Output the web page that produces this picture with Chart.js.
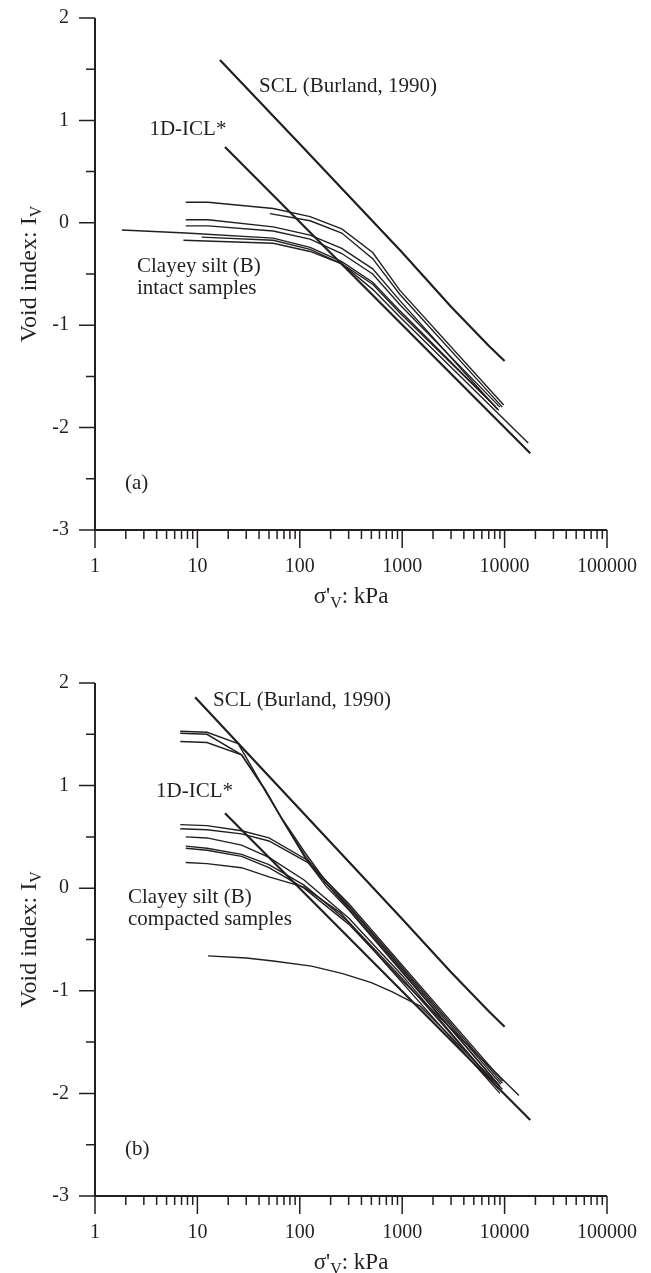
<!DOCTYPE html>
<html>
<head>
<meta charset="utf-8">
<script src="https://cdn.jsdelivr.net/npm/chart.js@4.4.0/dist/chart.umd.min.js"></script>
<style>
    html, body { margin: 0; padding: 0; background: #fff; }
    canvas { display: block; }
</style>
</head>
<body>
<canvas id="graphiqueIntact" width="651" height="636"></canvas>
<canvas id="graphiqueCompacte" width="651" height="637"></canvas>
<script>
// Graduations des axes
const pressionsTicks = [1, 10, 100, 1000, 10000, 100000];
const indicesTicks = [-3, -2, -1, 0, 1, 2];

// (a) échantillons intacts : [σ'v (kPa), Iv]
const sclIntact = [[16.6, 1.59], [100, 0.77], [1000, -0.29], [3000, -0.82], [7000, -1.20], [10000, -1.35]];
const iclIntact = [[18.6, 0.74], [17800, -2.25]];
const intact1 = [[7.7, 0.20], [12.7, 0.20], [55, 0.14], [126, 0.06], [257, -0.06], [515, -0.29], [950, -0.66], [9800, -1.78]];
const intact2 = [[51, 0.09], [126, 0.02], [257, -0.10], [515, -0.35], [950, -0.70], [9500, -1.80]];
const intact3 = [[7.7, 0.03], [12.7, 0.03], [55, -0.04], [126, -0.12], [257, -0.25], [515, -0.45], [950, -0.76], [8500, -1.82]];
const intact4 = [[7.7, -0.03], [12.7, -0.03], [55, -0.08], [126, -0.16], [257, -0.30], [515, -0.50], [950, -0.80], [9000, -1.80]];
const intact5 = [[1.83, -0.07], [7.7, -0.10], [55, -0.15], [126, -0.24], [257, -0.38], [515, -0.58], [950, -0.86], [8800, -1.83]];
const intact6 = [[11, -0.14], [55, -0.17], [126, -0.26], [257, -0.40], [515, -0.65], [950, -0.92], [17000, -2.15]];
const intact7 = [[7.3, -0.17], [55, -0.20], [126, -0.28], [257, -0.40], [515, -0.60], [950, -0.88], [8200, -1.80]];

// (b) échantillons compactés
const sclCompacte = [[9.5, 1.86], [100, 0.77], [1000, -0.30], [3000, -0.82], [7000, -1.20], [10000, -1.35]];
const iclCompacte = [[18.6, 0.73], [17800, -2.26]];
const compacte1 = [[6.8, 1.53], [12.4, 1.52], [25, 1.41], [42, 1.02], [65, 0.70], [110, 0.36], [170, 0.10], [300, -0.15], [1000, -0.75], [9600, -1.88]];
const compacte2 = [[6.8, 1.51], [12.4, 1.50], [27, 1.30], [44, 0.98], [68, 0.66], [112, 0.32], [175, 0.06], [300, -0.18], [1000, -0.79], [9200, -1.91]];
const compacte3 = [[6.8, 1.43], [12.4, 1.42], [27, 1.30], [46, 0.96], [72, 0.62], [115, 0.28], [180, 0.02], [300, -0.21], [1000, -0.82], [9000, -1.93]];
const compacte4 = [[6.8, 0.62], [12.4, 0.61], [27, 0.56], [50, 0.49], [120, 0.27], [300, -0.17], [1000, -0.77], [9500, -1.90]];
const compacte5 = [[6.8, 0.58], [12.4, 0.57], [27, 0.53], [50, 0.46], [120, 0.25], [300, -0.20], [1000, -0.81], [8800, -1.92]];
const compacte6 = [[7.7, 0.50], [12.4, 0.49], [27, 0.42], [50, 0.30], [110, 0.08], [300, -0.29], [1000, -0.85], [8800, -1.96]];
const compacte7 = [[7.7, 0.41], [12.4, 0.39], [27, 0.33], [50, 0.23], [110, 0.03], [300, -0.33], [1000, -0.88], [9300, -1.98]];
const compacte8 = [[7.7, 0.39], [12.4, 0.37], [27, 0.31], [50, 0.20], [110, 0.00], [300, -0.35], [1000, -0.90], [13800, -2.02]];
const compacte9 = [[7.7, 0.25], [12.4, 0.24], [27, 0.20], [50, 0.11], [110, 0.01], [250, -0.24], [1000, -0.92], [9000, -2.00]];
const compacte10 = [[12.7, -0.66], [30, -0.68], [55, -0.71], [130, -0.76], [257, -0.83], [500, -0.92], [800, -1.01], [1100, -1.08], [1500, -1.15], [3000, -1.45], [9500, -1.96]];

const encre = '#231f20';
const police = '"Liberation Serif", "Times New Roman", serif';

function versPoints(paires) {
    return paires.map(([x, y]) => ({ x: x, y: y }));
}

// Axes en L avec graduations majeures / mineures
const cadreAxes = {
    id: 'cadreAxes',
    afterDraw(chart) {
        const { ctx, scales: { x, y } } = chart;
        const gauche = x.getPixelForValue(1), droite = x.getPixelForValue(100000);
        const bas = y.getPixelForValue(-3), haut = y.getPixelForValue(2);
        ctx.save();
        ctx.strokeStyle = encre;
        ctx.lineWidth = 2;
        ctx.beginPath();
        ctx.moveTo(gauche, haut);
        ctx.lineTo(gauche, bas);
        ctx.lineTo(droite, bas);
        ctx.stroke();

        ctx.lineWidth = 1.5;
        ctx.beginPath();
        for (let v = -3; v <= 2; v += 0.5) {
            const p = y.getPixelForValue(v);
            const longueur = Number.isInteger(v) ? 16 : 9;
            ctx.moveTo(gauche - longueur, p);
            ctx.lineTo(gauche, p);
        }
        for (let e = 0; e <= 5; e++) {
            for (let m = 1; m <= 9; m++) {
                if (e === 5 && m > 1) break;
                const p = x.getPixelForValue(m * Math.pow(10, e));
                const longueur = m === 1 ? 18 : 9;
                ctx.moveTo(p, bas);
                ctx.lineTo(p, bas + longueur);
            }
        }
        ctx.stroke();
        ctx.restore();
    }
};

// Texte avec indice (ex. Iv, σ'v)
function ecrireAvecIndice(ctx, morceaux, x, y, taille) {
    const tailleIndice = Math.round(taille * 0.68);
    const largeurs = morceaux.map(m => {
        ctx.font = (m.indice ? tailleIndice : taille) + 'px ' + police;
        return ctx.measureText(m.t).width;
    });
    let cx = x - largeurs.reduce((a, b) => a + b, 0) / 2;
    morceaux.forEach((m, i) => {
        ctx.font = (m.indice ? tailleIndice : taille) + 'px ' + police;
        ctx.fillText(m.t, cx, y + (m.indice ? 5 : 0));
        cx += largeurs[i];
    });
}

// Titres d'axes et annotations placées en coordonnées de données
function creerTextes(annotations) {
    return {
        id: 'textesLibres',
        afterDraw(chart) {
            const { ctx, chartArea, scales: { x, y } } = chart;
            ctx.save();
            ctx.fillStyle = encre;
            ctx.textBaseline = 'alphabetic';
            ctx.textAlign = 'left';

            ecrireAvecIndice(ctx, [{ t: "σ'" }, { t: 'V', indice: true }, { t: ': kPa' }],
                (chartArea.left + chartArea.right) / 2, chartArea.bottom + 73, 23);

            ctx.save();
            ctx.translate(36, (chartArea.top + chartArea.bottom) / 2);
            ctx.rotate(-Math.PI / 2);
            ecrireAvecIndice(ctx, [{ t: 'Void index: I' }, { t: 'V', indice: true }], 0, 0, 24);
            ctx.restore();

            ctx.font = '21px ' + police;
            annotations.forEach(a => {
                ctx.fillText(a.texte, x.getPixelForValue(a.x), y.getPixelForValue(a.y));
            });
            ctx.restore();
        }
    };
}

function creerGraphique(idCanvas, droites, courbes, annotations, margeHaut, margeBas) {
    const ctx = document.getElementById(idCanvas).getContext('2d');
    const datasets = [];
    droites.forEach(d => datasets.push({
        data: versPoints(d), borderColor: encre, borderWidth: 2.2, pointRadius: 0, tension: 0
    }));
    courbes.forEach(c => datasets.push({
        data: versPoints(c), borderColor: encre, borderWidth: 1.4, pointRadius: 0, tension: 0
    }));

    return new Chart(ctx, {
        type: 'line',
        data: { datasets: datasets },
        options: {
            responsive: false,
            animation: false,
            events: [],
            layout: { padding: { top: margeHaut, right: 44, bottom: margeBas, left: 0 } },
            plugins: { legend: { display: false }, tooltip: { enabled: false } },
            scales: {
                x: {
                    type: 'logarithmic',
                    min: 1,
                    max: 100000,
                    afterBuildTicks: s => { s.ticks = pressionsTicks.map(v => ({ value: v })); },
                    afterFit: s => {
                        s.height = 70;
                        s.paddingLeft = 0;
                        s.paddingRight = 0;
                    },
                    grid: { display: false, drawTicks: false },
                    border: { display: false },
                    ticks: {
                        autoSkip: false, maxRotation: 0, padding: 25, color: encre,
                        font: { family: police, size: 20 },
                        callback: v => String(v)
                    }
                },
                y: {
                    type: 'linear',
                    min: -3,
                    max: 2,
                    afterBuildTicks: s => { s.ticks = indicesTicks.map(v => ({ value: v })); },
                    afterFit: s => {
                        s.width = 95;
                        s.paddingTop = 0;
                        s.paddingBottom = 0;
                    },
                    grid: { display: false, drawTicks: false },
                    border: { display: false },
                    ticks: {
                        padding: 26, color: encre,
                        font: { family: police, size: 20 },
                        callback: v => String(v)
                    }
                }
            }
        },
        plugins: [cadreAxes, creerTextes(annotations)]
    });
}

creerGraphique(
    'graphiqueIntact',
    [sclIntact, iclIntact],
    [intact1, intact2, intact3, intact4, intact5, intact6, intact7],
    [
        { texte: 'SCL (Burland, 1990)', x: 40, y: 1.28 },
        { texte: '1D-ICL*', x: 3.4, y: 0.86 },
        { texte: 'Clayey silt (B)', x: 2.57, y: -0.48 },
        { texte: 'intact samples', x: 2.57, y: -0.70 },
        { texte: '(a)', x: 1.96, y: -2.60 }
    ],
    18, 36
);

creerGraphique(
    'graphiqueCompacte',
    [sclCompacte, iclCompacte],
    [compacte1, compacte2, compacte3, compacte4, compacte5, compacte6, compacte7, compacte8, compacte9, compacte10],
    [
        { texte: 'SCL (Burland, 1990)', x: 14.2, y: 1.78 },
        { texte: '1D-ICL*', x: 3.94, y: 0.89 },
        { texte: 'Clayey silt (B)', x: 2.1, y: -0.14 },
        { texte: 'compacted samples', x: 2.1, y: -0.36 },
        { texte: '(b)', x: 1.96, y: -2.60 }
    ],
    47, 7
);
</script>
</body>
</html>
